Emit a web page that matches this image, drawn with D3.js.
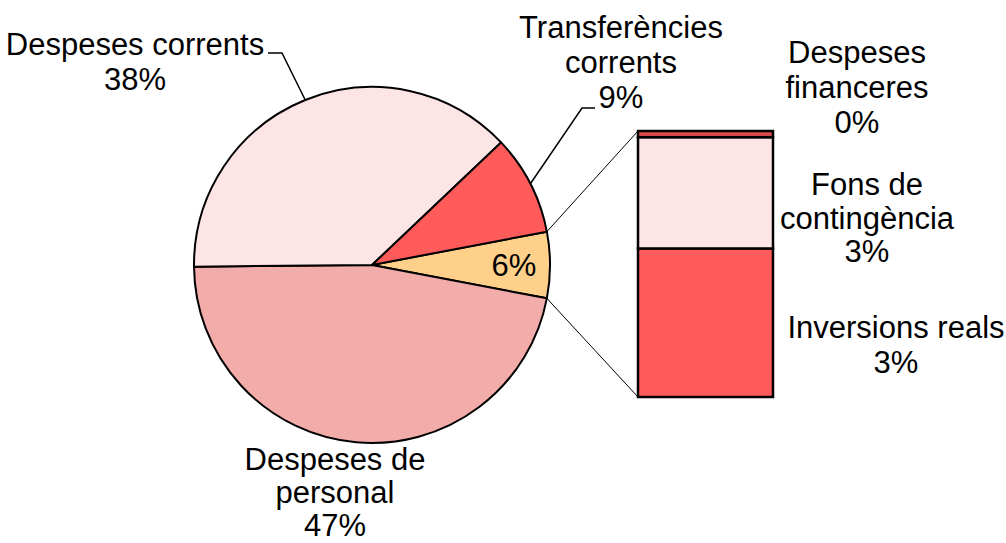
<!DOCTYPE html>
<html>
<head>
<meta charset="utf-8">
<script src="https://cdn.jsdelivr.net/npm/d3@7"></script>
<style>
  html, body { margin: 0; padding: 0; background: #fff; }
  svg { display: block; }
  text { font-family: "Liberation Sans", Arial, sans-serif; font-size: 31px; fill: #000; }
</style>
</head>
<body>
<svg id="chart" width="1006" height="543"></svg>
<script>
// ---- Data ----
const pieCategories = ["Despeses de personal", "Despeses corrents", "Transferències corrents"];
const pieValues = [46.9, 38.1, 9.1];
const barCategories = ["Inversions reals", "Fons de contingència", "Despeses financeres"];
const barValues = [3.35, 2.51, 0.14];
const pieColors = ["#F2ACAA", "#FDE5E5", "#FF5B5B"];
const otherColor = "#FFD08A";
const barColors = ["#FF5B5B", "#FDE5E5", "#D94A4A"];

// ---- Layout ----
const svg = d3.select("#chart");
const cx = 372, cy = 265, R = 178;
const barX0 = 638, barX1 = 773, barTop = 131, barBottom = 397;
const fmt = d3.format(".0%");

const otherSum = d3.sum(barValues);
const total = d3.sum(pieValues) + otherSum;

// Pie order clockwise: other, personal, corrents, transferencies
const pieData = [{name: "Other", value: otherSum, color: otherColor}]
  .concat(pieCategories.map((n, i) => ({name: n, value: pieValues[i], color: pieColors[i]})));

const otherFrac = otherSum / total;
const start = Math.PI / 2 - otherFrac * Math.PI;
const pie = d3.pie().sort(null).value(d => d.value).startAngle(start).endAngle(start + 2 * Math.PI);
const arcs = pie(pieData);
const arc = d3.arc().innerRadius(0).outerRadius(R);

const g = svg.append("g").attr("transform", `translate(${cx},${cy})`);
g.selectAll("path.slice").data(arcs).join("path")
  .attr("class", "slice")
  .attr("d", arc)
  .attr("fill", d => d.data.color)
  .attr("stroke", "#000")
  .attr("stroke-width", 2)
  .attr("stroke-linejoin", "round");

// Point on circle at d3 angle a (0 = top, clockwise)
const pt = (a, r) => [cx + r * Math.sin(a), cy - r * Math.cos(a)];

// ---- Bar (second plot) ----
const y = d3.scaleLinear().domain([0, otherSum]).range([barBottom, barTop]);
let acc = 0;
const stacked = barValues.map((v, i) => { const s = {name: barCategories[i], v0: acc, v1: acc + v, color: barColors[i], value: v}; acc += v; return s; });

// connector lines
const oa = arcs[0];
const pStart = pt(oa.startAngle, R), pEnd = pt(oa.endAngle, R);
svg.append("line").attr("x1", pStart[0]).attr("y1", pStart[1]).attr("x2", barX0).attr("y2", y(otherSum))
  .attr("stroke", "#000").attr("stroke-width", 1);
svg.append("line").attr("x1", pEnd[0]).attr("y1", pEnd[1]).attr("x2", barX0).attr("y2", y(0))
  .attr("stroke", "#000").attr("stroke-width", 1);

svg.selectAll("rect.seg").data(stacked).join("rect")
  .attr("class", "seg")
  .attr("x", barX0)
  .attr("width", barX1 - barX0)
  .attr("y", d => y(d.v1))
  .attr("height", d => y(d.v0) - y(d.v1))
  .attr("fill", d => d.color)
  .attr("stroke", "#000")
  .attr("stroke-width", 2.5);

// ---- Labels ----
function multiLine(x, y0, lines, dy) {
  const t = svg.append("text").attr("text-anchor", "middle");
  lines.forEach((l, i) => t.append("tspan").attr("x", x).attr("y", y0 + i * dy).text(l));
  return t;
}

// Personal
const aPers = arcs[1];
multiLine(335, 470, ["Despeses de", "personal", fmt(aPers.data.value / total)], 33);

// Corrents with leader
const aCorr = arcs[2];
multiLine(135, 55, ["Despeses corrents", fmt(aCorr.data.value / total)], 35);
{
  const m = (aCorr.startAngle + aCorr.endAngle) / 2;
  const p = pt(m, R);
  svg.append("polyline").attr("points", `268,53 282,53 ${p[0]},${p[1]}`)
    .attr("fill", "none").attr("stroke", "#000").attr("stroke-width", 1.5);
}

// Transferencies with leader
const aTr = arcs[3];
multiLine(621, 38, ["Transferències", "corrents", fmt(aTr.data.value / total)], 35);
{
  const m = (aTr.startAngle + aTr.endAngle) / 2;
  const p = pt(m, R);
  svg.append("polyline").attr("points", `595,108 582,108 ${p[0]},${p[1]}`)
    .attr("fill", "none").attr("stroke", "#000").attr("stroke-width", 1.5);
}

// Other slice label
{
  const m = (oa.startAngle + oa.endAngle) / 2;
  const p = pt(m, 142);
  svg.append("text").attr("x", p[0]).attr("y", p[1] + 11).attr("text-anchor", "middle")
    .text(fmt(oa.data.value / total));
}

// Bar labels
multiLine(857, 63, ["Despeses", "financeres", fmt(stacked[2].value / total)], 35);
multiLine(867, 195, ["Fons de", "contingència", fmt(stacked[1].value / total)], 33.5);
multiLine(896, 338, ["Inversions reals", fmt(stacked[0].value / total)], 35);
</script>
</body>
</html>
